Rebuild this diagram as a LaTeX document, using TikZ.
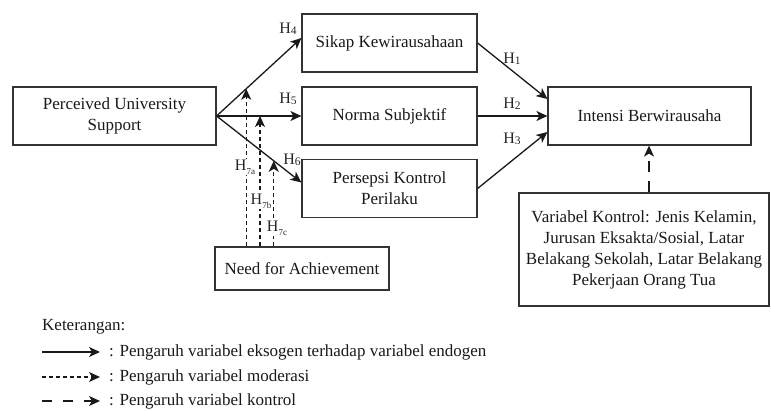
\documentclass[tikz,border=0pt]{standalone}
\usepackage{fontspec}
\setmainfont{Liberation Serif}
\usetikzlibrary{arrows.meta,calc}
\newcommand{\hsub}[1]{\raisebox{-1.5pt}{\fontsize{11.5}{12}\selectfont #1}}
\newcommand{\hsubs}[1]{\raisebox{-4pt}{\fontsize{9}{10}\selectfont #1}}
\begin{document}
\begin{tikzpicture}[x=1pt,y=-1pt,
  box/.style={draw=black!80, line width=1.2pt, align=center, inner sep=1pt,
    font=\fontsize{17}{21}\selectfont, text=black!90},
  conn/.style={line width=1.3pt, draw=black!90, -{Stealth[length=11pt,width=10pt,inset=3pt]}},
  modarr/.style={conn, dash pattern=on 4pt off 3pt},
  ctrlarr/.style={conn, dash pattern=on 11pt off 9pt},
  hlab/.style={font=\fontsize{16}{18}\selectfont, text=black!85, inner sep=0.5pt},
  hlabw/.style={hlab, fill=white},
  legtext/.style={font=\fontsize{17}{21}\selectfont, text=black!90, inner sep=0pt, anchor=west}
]
\useasboundingbox (0,0) rectangle (771,411);

% boxes
\node[box, minimum width=203pt, minimum height=58pt] (pus) at (114.5,116) {Perceived University\\Support};
\node[box, minimum width=175pt, minimum height=58pt] (sikap) at (389.5,43) {Sikap Kewirausahaan};
\node[box, minimum width=175pt, minimum height=58pt] (norma) at (389.5,116) {Norma Subjektif};
\node[box, minimum width=175pt, minimum height=58pt] (pers) at (389.5,188.5) {Persepsi Kontrol\\Perilaku};
\node[box, minimum width=174pt, minimum height=43pt] (nfa) at (302,268.5) {Need for Achievement};
\node[box, minimum width=203pt, minimum height=58pt] (int) at (649.5,116) {Intensi Berwirausaha};
\node[box, minimum width=250pt, minimum height=113pt] (var) at (644,249.5) {Variabel Kontrol: Jenis Kelamin,\\Jurusan Eksakta/Sosial, Latar\\Belakang Sekolah, Latar Belakang\\Pekerjaan Orang Tua};

% main paths
\draw[conn] (pus.east) -- ([yshift=5pt]sikap.west);
\draw[conn] (pus.east) -- (norma.west);
\draw[conn] (pus.east) -- ([yshift=6pt]pers.west);
\draw[conn] (sikap.east) -- ([yshift=17pt]int.west);
\draw[conn] (norma.east) -- (int.west);
\draw[conn] (pers.east) -- ([yshift=-16pt]int.west);

% moderation targets
\path (pus.east) -- ([yshift=5pt]sikap.west) coordinate[pos=0.349] (m1);
\path (pus.east) -- (norma.west) coordinate[pos=0.512] (m2);
\path (pus.east) -- ([yshift=6pt]pers.west) coordinate[pos=0.674] (m3);
\draw[modarr] (nfa.north -| m1) -- (m1);
\draw[modarr] (nfa.north -| m2) -- (m2);
\draw[modarr] (nfa.north -| m3) -- (m3);

% control
\draw[ctrlarr] ([xshift=5pt]var.north) -- ([xshift=5pt]var.north |- int.south);

% labels
\node[hlab] (h4) at (288,29) {H\hsub{4}};
\node[hlab] (h5) at (288,99) {H\hsub{5}};
\node[hlab] (h6) at (292,160) {H\hsub{6}};
\node[hlab] (h1) at (512,59) {H\hsub{1}};
\node[hlab] (h2) at (512,104) {H\hsub{2}};
\node[hlab] (h3) at (512,139) {H\hsub{3}};
\node[hlabw] (h7a) at (245,167) {H\hsubs{7a}};
\node[hlabw] (h7b) at (261,201) {H\hsubs{7b}};
\node[hlabw] (h7c) at (277,228) {H\hsubs{7c}};

% legend
\node[legtext] (ket) at (42,327) {Keterangan:};
\coordinate (a1s) at (42,352); \coordinate (a1e) at (100,352);
\coordinate (a2s) at (42,377); \coordinate (a2e) at (100,377);
\coordinate (a3s) at (42,401); \coordinate (a3e) at (100,401);
\draw[conn] (a1s) -- (a1e);
\draw[modarr] (a2s) -- (a2e);
\draw[line width=1.3pt, draw=black!90, dash pattern=on 10pt off 11pt, -{Stealth[length=11pt,width=10pt,inset=3pt]}] (a3s) -- (a3e);
\node[legtext] (l1) at (109,352) {: Pengaruh variabel eksogen terhadap variabel endogen};
\node[legtext] (l2) at (109,377) {: Pengaruh variabel moderasi};
\node[legtext] (l3) at (109,401) {: Pengaruh variabel kontrol};
\end{tikzpicture}
\end{document}
